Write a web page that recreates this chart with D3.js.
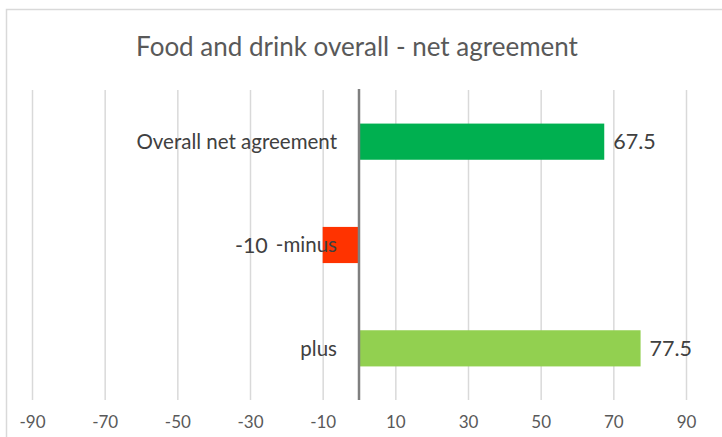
<!DOCTYPE html>
<html>
<head>
<meta charset="utf-8">
<script src="https://cdn.jsdelivr.net/npm/d3@7"></script>
<style>
  body { margin: 0; background: #fff; }
  svg { display: block; font-family: Lato, "Open Sans", sans-serif; }
</style>
</head>
<body>
<svg id="chart" width="722" height="437"></svg>
<script>
// Net agreement by group
const categories = ["Overall net agreement", "-minus", "plus"];
const values = [67.5, -10, 77.5];
const barColors = ["#00b050", "#ff3300", "#92d050"];
const tickValues = [-90, -70, -50, -30, -10, 10, 30, 50, 70, 90];
const title = "Food and drink overall - net agreement";

const svg = d3.select("#chart");
const plot = { left: 32, right: 686, top: 90, bottom: 400 };

// plain hyphen for negatives, as in the axis and labels
const fmt = d => (d < 0 ? "-" : "") + d3.format(".1~f")(Math.abs(d));

const x = d3.scaleLinear().domain([-90, 90]).range([plot.left, plot.right]);
const y = d3.scaleBand().domain(categories)
  .range([plot.top, plot.bottom])
  .paddingInner(0.65).paddingOuter(0.325);

// chart area frame
svg.append("rect")
  .attr("x", 6.5).attr("y", 9.5)
  .attr("width", 730).attr("height", 440)
  .attr("fill", "#fff")
  .attr("stroke", "#d9d9d9").attr("stroke-width", 1.5);

// title
svg.append("text")
  .attr("x", 357).attr("y", 56)
  .attr("text-anchor", "middle")
  .attr("fill", "#595959")
  .style("font-size", "26px")
  .text(title);

// vertical gridlines and tick labels
const axis = d3.axisBottom(x)
  .tickValues(tickValues)
  .tickSize(plot.bottom - plot.top)
  .tickPadding(16)
  .tickFormat(fmt);

const gAxis = svg.append("g")
  .attr("transform", `translate(0,${plot.top})`)
  .call(axis);
gAxis.select(".domain").remove();
gAxis.selectAll(".tick line")
  .attr("stroke", "#d9d9d9").attr("stroke-width", 1.5);
gAxis.selectAll(".tick text")
  .attr("fill", "#595959")
  .style("font-family", "Lato, sans-serif")
  .style("font-size", "17px");

// bars
svg.append("g").selectAll("rect")
  .data(values)
  .join("rect")
  .attr("x", d => x(Math.min(0, d)))
  .attr("y", (d, i) => y(categories[i]))
  .attr("width", d => Math.abs(x(d) - x(0)))
  .attr("height", y.bandwidth())
  .attr("fill", (d, i) => barColors[i]);

// zero axis line
svg.append("line")
  .attr("x1", x(0)).attr("x2", x(0))
  .attr("y1", plot.top - 1).attr("y2", plot.bottom)
  .attr("stroke", "#7f7f7f").attr("stroke-width", 2.5);

// category labels beside the zero line
const catLabels = svg.append("g").selectAll("text")
  .data(categories)
  .join("text")
  .attr("x", x(0) - 22)
  .attr("y", d => y(d) + y.bandwidth() / 2)
  .attr("dy", "0.35em")
  .attr("text-anchor", "end")
  .attr("fill", "#404040")
  .style("font-size", "20.5px")
  .text(d => d);

// value labels: outside the bar end, or left of the category text for negatives
svg.append("g").selectAll("text")
  .data(values)
  .join("text")
  .attr("x", (d, i) => {
    if (d >= 0) return x(d) + 9;
    const bb = catLabels.nodes()[i].getBBox();
    return bb.x - 8;
  })
  .attr("y", (d, i) => y(categories[i]) + y.bandwidth() / 2)
  .attr("dy", "0.35em")
  .attr("text-anchor", d => d >= 0 ? "start" : "end")
  .attr("fill", "#404040")
  .style("font-size", "21.5px")
  .text(fmt);
</script>
</body>
</html>
